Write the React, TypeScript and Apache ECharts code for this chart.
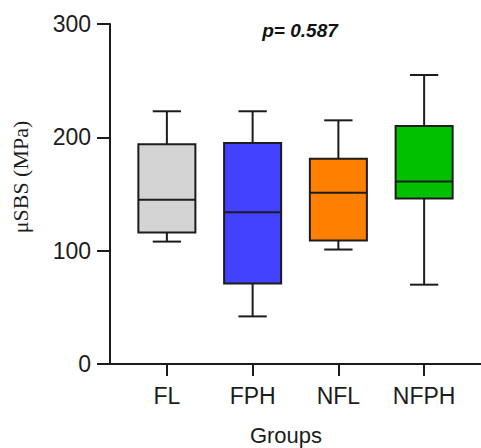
import React, { useEffect, useRef } from 'react';
import * as echarts from 'echarts';

const categories = ['FL', 'FPH', 'NFL', 'NFPH'];
const whiskerLow = [108, 42, 101, 70];
const q1 = [116, 71, 109, 146];
const median = [145, 134, 151, 161];
const q3 = [194, 195, 181, 210];
const whiskerHigh = [223, 223, 215, 255];
const boxColors = ['#d4d4d4', '#4141ff', '#ff8000', '#00c000'];
const yMin = 0;
const yMax = 300;
const yStep = 100;
const pText = 'p= 0.587';
const xTitle = 'Groups';
const yTitle = 'μSBS (MPa)';

const INK = '#1c1c1c';
const FONT = '"Liberation Sans", Arial, sans-serif';

export default function App() {
  const ref = useRef<HTMLDivElement>(null);
  useEffect(() => {
    if (!ref.current) return;
    const chart = echarts.init(ref.current, undefined, { renderer: 'svg' });
    const data = categories.map((_, i) => [i, whiskerLow[i], q1[i], median[i], q3[i], whiskerHigh[i]]);
    const option: any = {
      animation: false,
      backgroundColor: '#ffffff',
      grid: [
        { left: 110, right: 0, top: 24, bottom: 84 },
        { left: 124, right: 14, top: 24, bottom: 84 },
      ],
      xAxis: [
        {
          gridIndex: 0, type: 'value', min: 0, max: 1,
          axisLine: { show: true, lineStyle: { color: INK, width: 2 } },
          axisTick: { show: false }, axisLabel: { show: false }, splitLine: { show: false },
        },
        {
          gridIndex: 1, type: 'category', data: categories,
          axisLine: { show: false },
          axisTick: { show: true, alignWithLabel: true, length: 12, lineStyle: { color: INK, width: 2 } },
          axisLabel: { margin: 20, fontSize: 23, color: INK, fontFamily: FONT },
          splitLine: { show: false },
        },
      ],
      yAxis: [
        {
          gridIndex: 0, type: 'value', min: yMin, max: yMax, interval: yStep,
          axisLine: { show: true, lineStyle: { color: INK, width: 2 } },
          axisTick: { show: true, length: 13, lineStyle: { color: INK, width: 2 } },
          axisLabel: { margin: 19, fontSize: 23, color: INK, fontFamily: FONT },
          splitLine: { show: false },
        },
        {
          gridIndex: 1, type: 'value', min: yMin, max: yMax, interval: yStep, show: false,
          splitLine: { show: false },
        },
      ],
      series: [
        {
          type: 'custom',
          xAxisIndex: 1,
          yAxisIndex: 1,
          encode: { x: 0, y: [1, 2, 3, 4, 5] },
          data,
          renderItem: (params: any, api: any) => {
            const i = api.value(0);
            const band = api.size([1, 0])[0];
            const boxW = band * 0.665;
            const capW = band * 0.33;
            const pLo = api.coord([i, api.value(1)]);
            const pQ1 = api.coord([i, api.value(2)]);
            const pMed = api.coord([i, api.value(3)]);
            const pQ3 = api.coord([i, api.value(4)]);
            const pHi = api.coord([i, api.value(5)]);
            const cx = pMed[0];
            const ls = { stroke: INK, lineWidth: 2 };
            return {
              type: 'group',
              children: [
                { type: 'line', shape: { x1: cx, y1: pQ3[1], x2: cx, y2: pHi[1] }, style: ls },
                { type: 'line', shape: { x1: cx - capW / 2, y1: pHi[1], x2: cx + capW / 2, y2: pHi[1] }, style: ls },
                { type: 'line', shape: { x1: cx, y1: pQ1[1], x2: cx, y2: pLo[1] }, style: ls },
                { type: 'line', shape: { x1: cx - capW / 2, y1: pLo[1], x2: cx + capW / 2, y2: pLo[1] }, style: ls },
                {
                  type: 'rect',
                  shape: { x: cx - boxW / 2, y: pQ3[1], width: boxW, height: pQ1[1] - pQ3[1] },
                  style: { fill: boxColors[params.dataIndex], stroke: INK, lineWidth: 2 },
                },
                { type: 'line', shape: { x1: cx - boxW / 2, y1: pMed[1], x2: cx + boxW / 2, y2: pMed[1] }, style: ls },
              ],
            };
          },
        },
      ],
      graphic: [
        {
          type: 'text', x: 300, y: 30,
          style: {
            text: pText, fill: '#111', fontSize: 19, fontWeight: 'bold', fontStyle: 'italic',
            fontFamily: FONT, textAlign: 'center', textVerticalAlign: 'middle',
          },
        },
        {
          type: 'text', x: 286, y: 435,
          style: {
            text: xTitle, fill: INK, fontSize: 22, fontFamily: FONT,
            textAlign: 'center', textVerticalAlign: 'middle',
          },
        },
        {
          type: 'text', x: 20, y: 177, rotation: Math.PI / 2,
          style: {
            text: yTitle, fill: INK, fontSize: 22, fontFamily: '"Liberation Serif", "Times New Roman", serif',
            textAlign: 'center', textVerticalAlign: 'middle',
          },
        },
      ],
    };
    chart.setOption(option);
    return () => chart.dispose();
  }, []);
  return (
    <div
      ref={ref}
      style={{ position: 'fixed', left: 0, top: 0, width: 481, height: 448, background: '#fff' }}
    />
  );
}
